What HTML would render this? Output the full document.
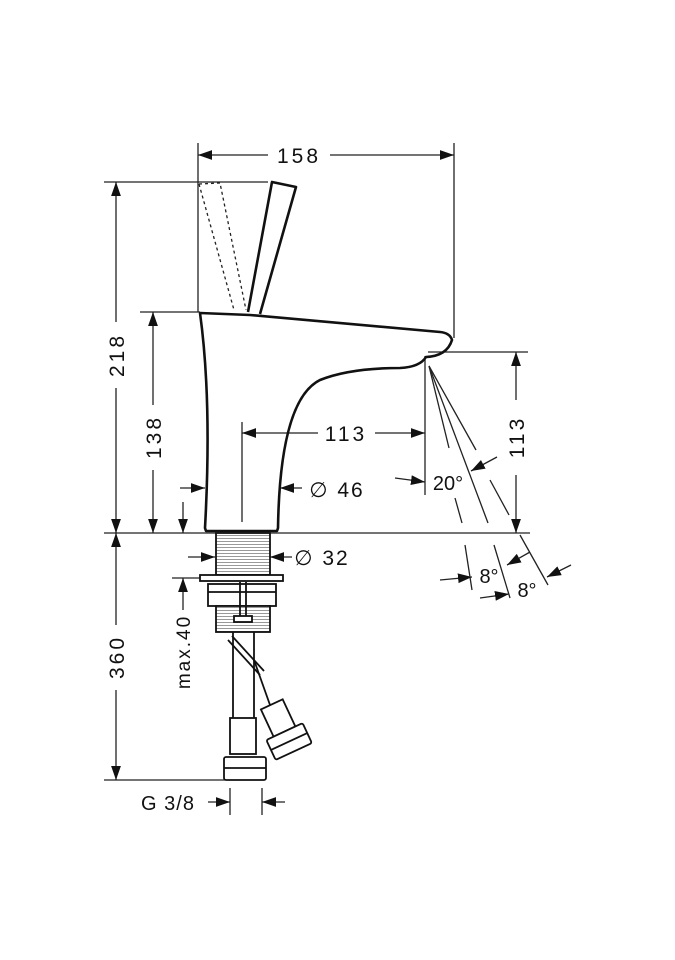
<!DOCTYPE html>
<html><head><style>body{margin:0;background:#fff}svg{display:block}</style></head><body>
<svg width="675" height="960" viewBox="0 0 675 960" xmlns="http://www.w3.org/2000/svg" font-family="Liberation Sans, sans-serif">
<defs>
<marker id="a" viewBox="0 0 10 10" refX="10" refY="5" markerWidth="14" markerHeight="14" markerUnits="userSpaceOnUse" orient="auto-start-reverse"><path d="M0,1.5 L10,5 L0,8.5z" fill="#111"/></marker>
<pattern id="h" width="4" height="3" patternUnits="userSpaceOnUse"><rect width="4" height="3" fill="#fff"/><line x1="0" y1="1.5" x2="4" y2="1.5" stroke="#999" stroke-width="1"/></pattern>
</defs>
<g stroke="#222" stroke-width="1.3" fill="none">
<line x1="198" y1="143" x2="198" y2="312"/>
<line x1="454" y1="143" x2="454" y2="338"/>
<line x1="104" y1="182" x2="268" y2="182"/>
<line x1="140" y1="312" x2="200" y2="312"/>
<line x1="104" y1="533" x2="530" y2="533"/>
<line x1="428" y1="352" x2="528" y2="352"/>
<line x1="242" y1="422" x2="242" y2="522"/>
<line x1="425" y1="356" x2="425" y2="495"/>
<line x1="104" y1="780" x2="225" y2="780"/>
<line x1="230" y1="788" x2="230" y2="815"/>
<line x1="262" y1="788" x2="262" y2="815"/>
<line x1="172" y1="578" x2="200" y2="578"/>
<line x1="198" y1="155" x2="268" y2="155" marker-start="url(#a)"/>
<line x1="330" y1="155" x2="454" y2="155" marker-end="url(#a)"/>
<line x1="116" y1="182" x2="116" y2="322" marker-start="url(#a)"/>
<line x1="116" y1="388" x2="116" y2="533" marker-end="url(#a)"/>
<line x1="153" y1="312" x2="153" y2="405" marker-start="url(#a)"/>
<line x1="153" y1="470" x2="153" y2="533" marker-end="url(#a)"/>
<line x1="183" y1="502" x2="183" y2="533" marker-end="url(#a)"/>
<line x1="180" y1="488" x2="205" y2="488" marker-end="url(#a)"/>
<line x1="242" y1="433" x2="318" y2="433" marker-start="url(#a)"/>
<line x1="375" y1="433" x2="425" y2="433" marker-end="url(#a)"/>
<line x1="302" y1="488" x2="280" y2="488" marker-end="url(#a)"/>
<line x1="395" y1="478" x2="425" y2="482" marker-end="url(#a)"/>
<line x1="516" y1="352" x2="516" y2="400" marker-start="url(#a)"/>
<line x1="516" y1="475" x2="516" y2="533" marker-end="url(#a)"/>
<line x1="497" y1="457" x2="471" y2="471" marker-end="url(#a)"/>
<line x1="188" y1="557" x2="215" y2="557" marker-end="url(#a)"/>
<line x1="292" y1="557" x2="270" y2="557" marker-end="url(#a)"/>
<line x1="116" y1="533" x2="116" y2="625" marker-start="url(#a)"/>
<line x1="116" y1="690" x2="116" y2="780" marker-end="url(#a)"/>
<line x1="183" y1="578" x2="183" y2="610" marker-start="url(#a)"/>
<line x1="208" y1="802" x2="230" y2="802" marker-end="url(#a)"/>
<line x1="285" y1="802" x2="262" y2="802" marker-end="url(#a)"/>
<line x1="440" y1="580" x2="472" y2="577" marker-end="url(#a)"/>
<line x1="480" y1="598" x2="509" y2="594" marker-end="url(#a)"/>
<line x1="530" y1="552" x2="507" y2="565" marker-end="url(#a)"/>
<line x1="571" y1="565" x2="547" y2="577" marker-end="url(#a)"/>
<line x1="429" y1="366" x2="449" y2="448"/>
<line x1="429" y1="366" x2="488" y2="523"/>
<line x1="429" y1="366" x2="476" y2="450"/>
<line x1="455" y1="498" x2="462" y2="523"/>
<line x1="490" y1="480" x2="509" y2="515"/>
<line x1="465" y1="545" x2="472" y2="590"/>
<line x1="494" y1="545" x2="510" y2="598"/>
<line x1="520" y1="535" x2="548" y2="585"/>
<path d="M199,184 L220,183 L246,310 M199,184 L234,310" stroke-dasharray="3,3"/>
</g>
<g stroke="#111" stroke-width="2.6" fill="none" stroke-linejoin="round">
<path d="M200,313 Q212,400 205,528 L206,531 L277,531 L278,528 Q280,400 320,380 Q350,368 400,368 Q420,367 426,357 Q447,356 452,340 Q450,333 440,332 L250,315 L200,313 Z"/>
<path d="M248,312 L272,182 L296,187 L260,314"/>
</g>
<g stroke="#111" stroke-width="1.8" fill="none">
<rect x="216" y="533" width="54" height="42" fill="url(#h)"/>
<rect x="200" y="575" width="83" height="6" fill="#fff"/>
<rect x="208" y="584" width="68" height="22" fill="#fff"/>
<rect x="216" y="606" width="54" height="26" fill="url(#h)"/>
<line x1="208" y1="592" x2="276" y2="592"/>
<line x1="240" y1="582" x2="240" y2="618"/><line x1="246" y1="582" x2="246" y2="618"/>
<rect x="234" y="616" width="18" height="6" fill="#fff"/>
<line x1="233" y1="632" x2="233" y2="720"/><line x1="254" y1="632" x2="254" y2="720"/>
<rect x="230" y="718" width="26" height="36" fill="#fff"/>
<rect x="224" y="757" width="42" height="23" rx="2" fill="#fff"/>
<line x1="224" y1="768" x2="266" y2="768"/>
<line x1="228" y1="640" x2="260" y2="675"/><line x1="232" y1="636" x2="264" y2="671"/>
<line x1="254" y1="660" x2="270" y2="705"/>
<g transform="translate(287,737) rotate(-25)">
<rect x="-12" y="-36" width="24" height="30" fill="#fff"/>
<rect x="-20" y="-6" width="40" height="22" rx="2" fill="#fff"/>
<line x1="-20" y1="5" x2="20" y2="5"/>
</g>
</g>
<g fill="#111" font-size="21" text-anchor="middle">
<text x="299" y="163" letter-spacing="3">158</text>
<text x="346" y="441" letter-spacing="3">113</text>
<text transform="translate(124,355) rotate(-90)" letter-spacing="3">218</text>
<text transform="translate(161,437) rotate(-90)" letter-spacing="3">138</text>
<text transform="translate(124,657) rotate(-90)" letter-spacing="3">360</text>
<text transform="translate(524,437) rotate(-90)" letter-spacing="3">113</text>
<text transform="translate(190,652) rotate(-90)" font-size="19" letter-spacing="2">max.40</text>
<text x="337" y="497" letter-spacing="2">∅ 46</text>
<text x="322" y="565" letter-spacing="2">∅ 32</text>
<text x="448" y="490" font-size="20">20°</text>
<text x="489" y="583" font-size="20">8°</text>
<text x="527" y="597" font-size="20">8°</text>
<text x="168" y="810" font-size="20" letter-spacing="1">G 3/8</text>
</g>
</svg>
</body></html>
